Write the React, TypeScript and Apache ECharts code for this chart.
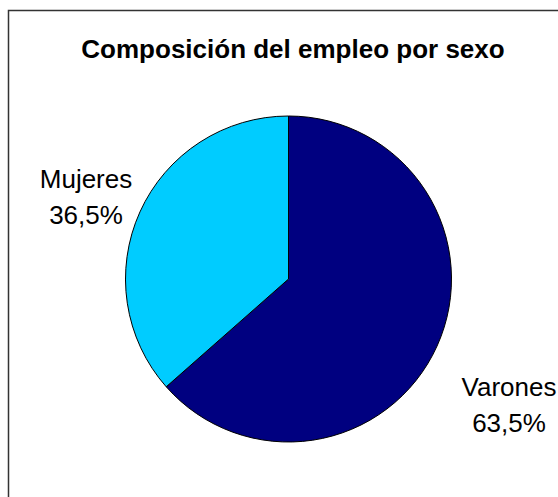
import React, { useEffect, useRef } from "react";
import * as echarts from "echarts";

const categories = ["Varones", "Mujeres"];
const values = [63.5, 36.5];
const colors = ["#000080", "#00CCFF"];
const titleText = "Composición del empleo por sexo";

export default function App() {
  const ref = useRef<HTMLDivElement>(null);
  useEffect(() => {
    if (!ref.current) return;
    const chart = echarts.init(ref.current, null, { renderer: "svg" });
    const labelPos = [
      { x: 509, y: 405 },
      { x: 86, y: 197 },
    ];
    chart.setOption({
      animation: false,
      backgroundColor: "#ffffff",
      title: {
        text: titleText,
        left: 288,
        top: 31,
        textAlign: "center",
        textStyle: {
          fontFamily: "Liberation Sans, Arial, sans-serif",
          fontWeight: "bold",
          fontSize: 26,
          color: "#000",
        },
      },
      graphic: [
        {
          type: "rect",
          shape: { x: 8.5, y: 10.5, width: 700, height: 700 },
          style: { fill: "none", stroke: "#333", lineWidth: 1.5 },
          silent: true,
          z: 0,
        },
      ],
      series: [
        {
          type: "pie",
          center: [288.5, 279],
          radius: 163,
          startAngle: 90,
          clockwise: true,
          avoidLabelOverlap: false,
          data: categories.map((c, i) => ({
            name: c,
            value: values[i],
            itemStyle: { color: colors[i] },
          })),
          itemStyle: { borderColor: "#000", borderWidth: 1 },
          label: {
            show: true,
            position: "outside",
            formatter: (p: any) =>
              p.name + "\n" + Number(p.value).toFixed(1).replace(".", ",") + "%",
            fontFamily: "Liberation Sans, Arial, sans-serif",
            fontSize: 26,
            lineHeight: 36,
            color: "#000",
            align: "center",
          },
          labelLine: { show: false },
          labelLayout: (params: any) => ({
            x: labelPos[params.dataIndex].x,
            y: labelPos[params.dataIndex].y,
            align: "center",
            verticalAlign: "middle",
          }),
          emphasis: { disabled: true },
        },
      ],
    });
    return () => chart.dispose();
  }, []);
  return (
    <div
      ref={ref}
      style={{ position: "fixed", left: 0, top: 0, width: 558, height: 497 }}
    />
  );
}
